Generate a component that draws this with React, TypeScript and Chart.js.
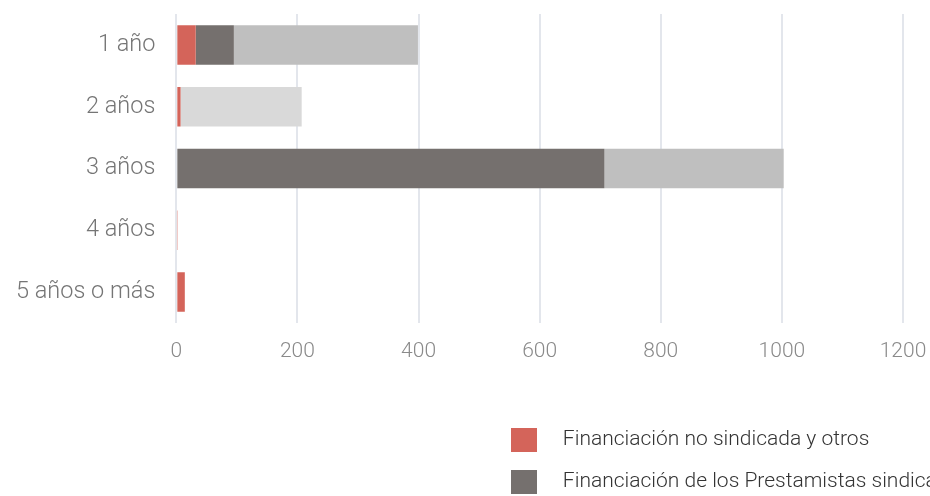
import React, { useEffect, useRef } from "react";
import { Chart, registerables } from "chart.js";

Chart.register(...registerables);

const categories = ["1 año", "2 años", "3 años", "4 años", "5 años o más"];
const seriesLabels = [
  "Financiación no sindicada y otros",
  "Financiación de los Prestamistas sindicados",
  "Otra financiación",
  "Financiación adicional",
];
const noSindicada = [32, 7, 0, 1, 14];
const sindicados = [63, 0, 707, 0, 0];
const tercera = [304, 0, 296, 0, 0];
const cuarta = [0, 200, 0, 0, 0];
const xTicks = [0, 200, 400, 600, 800, 1000, 1200];

const colors = ["#d4645a", "#75706e", "#bfbfbf", "#d9d9d9"];
const FONT = "Roboto, 'Noto Sans', sans-serif";

const legendPlacer = {
  id: "legendPlacer",
  afterLayout(chart: any) {
    const lg = chart.legend;
    if (!lg) return;
    lg.left = 493;
    lg.right = 930;
    lg.top = 410;
    lg.bottom = 1400;
  },
};

export default function App() {
  const ref = useRef<HTMLCanvasElement | null>(null);
  useEffect(() => {
    document.body.style.margin = "0";
    if (!ref.current) return;
    const series = [noSindicada, sindicados, tercera, cuarta];
    const chart = new Chart(ref.current, {
      type: "bar",
      data: {
        labels: categories,
        datasets: series.map((d, i) => ({
          label: seriesLabels[i],
          data: d,
          backgroundColor: colors[i],
          borderWidth: 0,
          categoryPercentage: 0.8,
          barPercentage: 0.8,
        })),
      },
      options: {
        indexAxis: "y",
        animation: false,
        responsive: false,
        maintainAspectRatio: false,
        layout: { padding: { left: 16, top: 14, bottom: 132, right: 27 } },
        scales: {
          x: {
            stacked: true,
            min: 0,
            max: 1200,
            afterBuildTicks: (axis: any) => {
              axis.ticks = xTicks.map((v) => ({ value: v }));
            },
            grid: {
              color: "#e3e6ec",
              lineWidth: 2,
              drawTicks: true,
              tickLength: 16,
              tickColor: "rgba(0,0,0,0)",
            },
            border: { display: false },
            ticks: {
              color: "#8a8a8a",
              padding: 0,
              font: { family: FONT, size: 21, weight: 300 },
              callback: (v: any) => String(v),
            },
          },
          y: {
            stacked: true,
            grid: {
              display: false,
              drawTicks: true,
              tickLength: 21,
              tickColor: "rgba(0,0,0,0)",
            },
            border: { display: false },
            ticks: {
              color: "#757575",
              padding: 0,
              font: { family: FONT, size: 23.5, weight: 300 },
            },
          },
        },
        plugins: {
          tooltip: { enabled: false },
          legend: {
            position: "chartArea",
            fullSize: false,
            align: "start",
            labels: {
              boxWidth: 26,
              boxHeight: 24,
              padding: 18,
              color: "#333333",
              font: { family: FONT, size: 21, weight: 300 },
              filter: (item: any) => item.datasetIndex < 2,
              generateLabels: (c: any) => {
                const items = Chart.defaults.plugins.legend.labels.generateLabels(c);
                return items.map((it: any) => ({ ...it, text: "   " + it.text, lineWidth: 0 }));
              },
            },
          },
        },
      } as any,
      plugins: [legendPlacer],
    });
    return () => chart.destroy();
  }, []);
  return (
    <div style={{ width: 930, height: 496, background: "#fff" }}>
      <canvas ref={ref} width={930} height={496} style={{ display: "block" }} />
    </div>
  );
}
